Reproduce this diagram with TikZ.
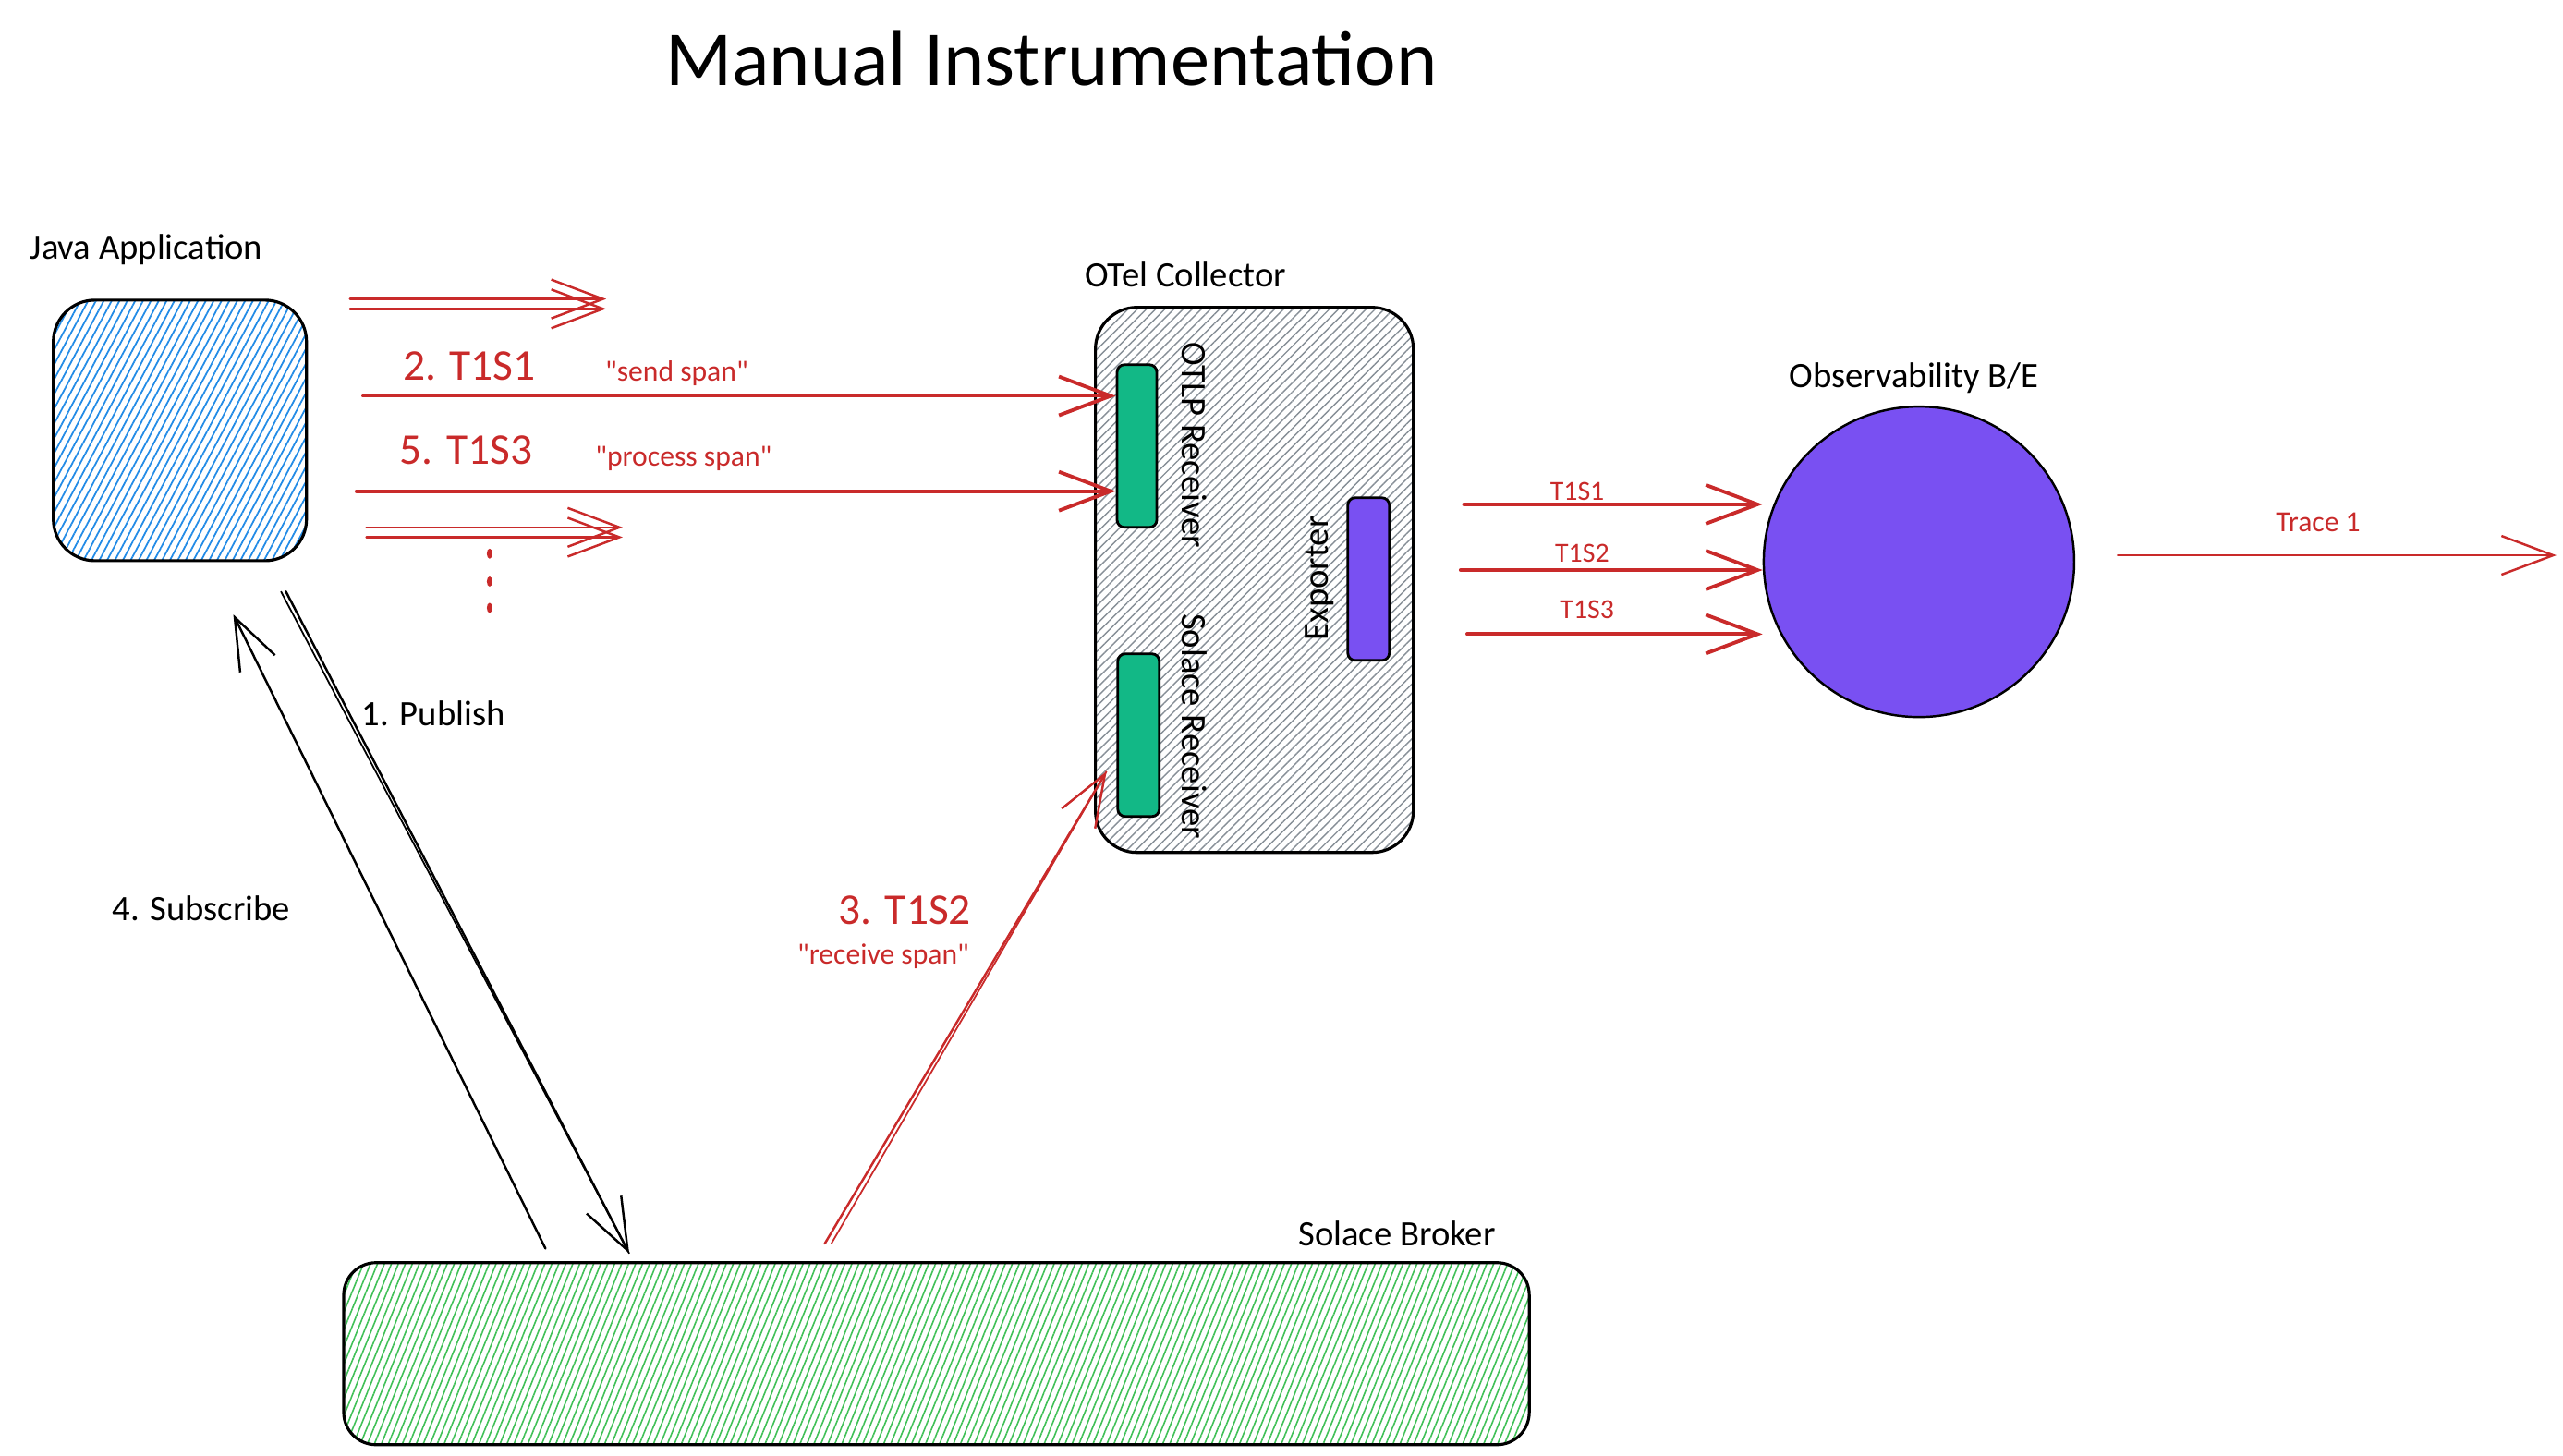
\documentclass[tikz,border=0pt]{standalone}
\usepackage{fontspec}
\setmainfont{Carlito}[Ligatures=TeXOff]
\usetikzlibrary{arrows.meta,patterns.meta,calc}

\definecolor{spanred}{HTML}{C92A2A}
\definecolor{javablue}{HTML}{228BE6}
\definecolor{hachgray}{HTML}{868E96}
\definecolor{brokergreen}{HTML}{40C057}
\definecolor{rxteal}{HTML}{12B886}
\definecolor{obsviolet}{HTML}{7950F2}

\tikzset{
  sketchbox/.style={draw=black, line width=0.9pt, rounded corners=4.5mm, inner sep=0pt},
  slot/.style={draw=black, line width=0.8pt, rounded corners=0.8mm, inner sep=0pt,
    minimum width=4.5mm, minimum height=17.6mm},
  lbl/.style={inner sep=0pt, font=\fontsize{11}{13}\selectfont},
  spanlbl/.style={inner sep=0pt, text=spanred, font=\fontsize{13.5}{15}\selectfont},
  quotelbl/.style={inner sep=0pt, text=spanred, font=\fontsize{9}{11}\selectfont},
  smalllbl/.style={inner sep=0pt, text=spanred, font=\fontsize{8.5}{10}\selectfont},
  barb/.tip={Straight Barb[length=5.6mm, width=4.2mm]},
  spanarrow/.style={draw=spanred, line width=1.1pt, line cap=round, -barb},
  stub/.style={draw=spanred, line width=0.7pt, line cap=round, -barb},
  msg/.style={draw=black, line width=0.7pt, line cap=round, -barb},
}

\begin{document}
\begin{tikzpicture}[x=0.1778mm, y=-0.1778mm]
  \useasboundingbox (0,0) rectangle (1560,886);

  % Title
  \node[inner sep=0pt, font=\fontsize{24}{28}\selectfont] (title) at (640,36) {Manual Instrumentation};

  % Java application
  \node[sketchbox, minimum width=27.4mm, minimum height=28.2mm,
    pattern={Lines[angle=62, distance=0.75mm, line width=0.5pt]}, pattern color=javablue] (java) at (109.5,262) {};
  \node[lbl, anchor=west] (javalbl) at (18,152) {Java Application};

  % OTel collector with its receivers and exporter
  \node[sketchbox, minimum width=34.4mm, minimum height=59mm,
    pattern={Lines[angle=45, distance=0.7mm, line width=0.4pt]}, pattern color=hachgray] (otel) at (763.5,353) {};
  \node[lbl, anchor=west] (otellbl) at (660,167) {OTel Collector};
  \node[slot, fill=rxteal, minimum width=4.3mm] (otlp) at (692,271.5) {};
  \node[slot, fill=rxteal] (solrx) at (693,447.5) {};
  \node[slot, fill=obsviolet] (exporter) at (833,352.5) {};
  \node[lbl, rotate=-90] (otlplbl) at (727,271) {OTLP Receiver};
  \node[lbl, rotate=-90] (solrxlbl) at (727,442) {Solace Receiver};
  \node[lbl, rotate=90] (exportlbl) at (803,352) {Exporter};

  % Observability back end
  \node[circle, draw=black, line width=0.7pt, fill=obsviolet, minimum size=33.6mm, inner sep=0pt] (obs) at (1168,342) {};
  \node[lbl] (obslbl) at (1165,230) {Observability B/E};

  % Solace broker
  \node[sketchbox, rounded corners=3.5mm, minimum width=128.3mm, minimum height=19.7mm,
    pattern={Lines[angle=68, distance=0.7mm, line width=0.45pt]}, pattern color=brokergreen] (broker) at (570,824) {};
  \node[lbl, anchor=west] (brokerlbl) at (790,751) {Solace Broker};

  % Spans sent to the OTLP receiver
  \coordinate (s1) at (221,241);
  \coordinate (s3) at (217,299);
  \draw[spanarrow] (s1) -- (s1 -| otlp.west);
  \draw[spanarrow] (s3) -- (s3 -| otlp.west);
  \node[spanlbl, anchor=west] (s1lbl) at (245,223) {2. T1S1};
  \node[quotelbl, anchor=west] (s1txt) at (368,227) {"send span"};
  \node[spanlbl, anchor=west] (s3lbl) at (243,274) {5. T1S3};
  \node[quotelbl, anchor=west] (s3txt) at (362,279) {"process span"};

  % More spans
  \coordinate (stubA) at (213,185);
  \coordinate (stubB) at (223,324);
  \foreach \d in {-3,3} {
    \draw[stub] ($(stubA)+(0,\d)$) -- ++(156,0);
    \draw[stub] ($(stubB)+(0,\d)$) -- ++(156,0);
  }
  \foreach \y in {337,354,370} {
    \fill[spanred] (298,\y) ellipse [x radius=0.3mm, y radius=0.55mm];
  }

  % Publish and subscribe
  \coordinate (pubA) at (174,360);
  \coordinate (pubB) at (383,763);
  \draw[msg] (pubA) -- (pubB);
  \draw[black, line width=0.5pt] ($(pubA)+(-3,0)$) -- (pubB);
  \node[lbl, anchor=west] (publbl) at (220,434) {1. Publish};
  \coordinate (subA) at (332,760);
  \coordinate (subB) at (142,374);
  \draw[msg] (subA) -- (subB);
  \node[lbl, anchor=west] (sublbl) at (68,553) {4. Subscribe};

  % Span from the broker to the Solace receiver
  \coordinate (rcvA) at (502,757);
  \coordinate (rcvB) at ($(solrx.west)+(-6,22)$);
  \draw[stub] (rcvA) -- (rcvB);
  \draw[spanred, line width=0.5pt] ($(rcvA)+(4,0)$) -- (rcvB);
  \node[spanlbl, anchor=west] (s2lbl) at (510,554) {3. T1S2};
  \node[quotelbl, anchor=west] (s2txt) at (485,582) {"receive span"};

  % Exported spans
  \coordinate (e1) at (891,307);
  \coordinate (e2) at (889,347);
  \coordinate (e3) at (893,386);
  \draw[spanarrow] (e1) -- (e1 -| obs.west);
  \draw[spanarrow] (e2) -- (e2 -| obs.west);
  \draw[spanarrow] (e3) -- (e3 -| obs.west);
  \node[smalllbl] (e1lbl) at (960,299) {T1S1};
  \node[smalllbl] (e2lbl) at (963,337) {T1S2};
  \node[smalllbl] (e3lbl) at (966,371) {T1S3};

  % Complete trace
  \coordinate (tr1) at (1289,338);
  \coordinate (tr2) at (1556,338);
  \draw[stub] (tr1) -- (tr2);
  \node[smalllbl, font=\fontsize{9}{11}\selectfont] (trlbl) at (1411,318) {Trace 1};
\end{tikzpicture}
\end{document}
